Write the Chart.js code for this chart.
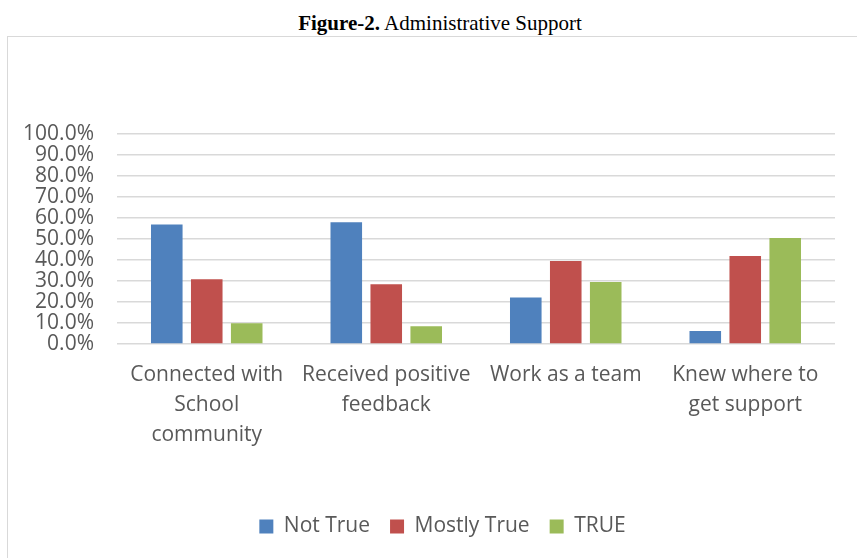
<!DOCTYPE html>
<html>
<head>
<meta charset="utf-8">
<script src="https://cdn.jsdelivr.net/npm/chart.js@4/dist/chart.umd.min.js"></script>
<style>
  body { margin: 0; background: #fff; width: 857px; height: 558px; overflow: hidden; position: relative; }
  #title { position: absolute; left: 0; top: 11px; width: 880px; text-align: center;
           font-family: "Liberation Serif", serif; font-size: 21px; color: #000; }
  #frame { position: absolute; left: 7px; top: 36px; width: 860px; height: 530px;
           border-top: 1px solid #d9d9d9; border-left: 1px solid #d9d9d9; }
  #wrap { position: absolute; left: 0; top: 0; width: 849px; height: 521px; }
</style>
</head>
<body>
<div id="title"><b>Figure-2.</b> Administrative Support</div>
<div id="frame">
  <div id="wrap"><canvas id="bar-chart"></canvas></div>
</div>
<script>
// categories and percentages per answer
const categories = [
  ["Connected with", "School", "community"],
  ["Received positive", "feedback"],
  "Work as a team",
  ["Knew where to", "get support"]
];
const notTrue = [56.9, 58.0, 22.1, 6.2];
const mostlyTrue = [30.8, 28.4, 39.5, 41.9];
const fullyTrue = [9.9, 8.4, 29.5, 50.5];

const labelFont = { family: "'Open Sans', sans-serif", size: 21 };

// nudge the legend so it sits centred under the plot rather than the canvas
const legendShift = {
  id: 'legendShift',
  afterLayout(chart) {
    chart.legend.left += 21;
    chart.legend.right += 21;
  }
};

new Chart(document.getElementById("bar-chart"), {
  type: 'bar',
  data: {
    labels: categories,
    datasets: [
      { label: "Not True", backgroundColor: "#4f81bd", data: notTrue },
      { label: "Mostly True", backgroundColor: "#c0504d", data: mostlyTrue },
      { label: "TRUE", backgroundColor: "#9bbb59", data: fullyTrue }
    ]
  },
  plugins: [legendShift],
  options: {
    responsive: true,
    maintainAspectRatio: false,
    animation: false,
    layout: { padding: { top: 97, right: 22, bottom: 11, left: 0 } },
    datasets: { bar: { categoryPercentage: 0.668, barPercentage: 0.79 } },
    plugins: {
      tooltip: { enabled: false },
      legend: {
        position: 'bottom',
        labels: { color: '#595959', font: labelFont, boxWidth: 14, boxHeight: 14, padding: 20 }
      }
    },
    scales: {
      x: {
        grid: { display: false, drawTicks: false },
        border: { display: false },
        ticks: { color: '#595959', font: { ...labelFont, lineHeight: 1.43 }, padding: 16, maxRotation: 0, autoSkip: false },
        afterFit: (scale) => { scale.height = 152; }
      },
      y: {
        min: 0,
        max: 100,
        grid: { color: '#d9d9d9', lineWidth: 1.6, drawTicks: false },
        border: { display: false },
        ticks: {
          stepSize: 10,
          autoSkip: false,
          color: '#595959',
          font: labelFont,
          padding: 23,
          callback: (v) => v.toFixed(1) + '%'
        },
        afterFit: (scale) => { scale.width = 109; }
      }
    }
  }
});
</script>
</body>
</html>
